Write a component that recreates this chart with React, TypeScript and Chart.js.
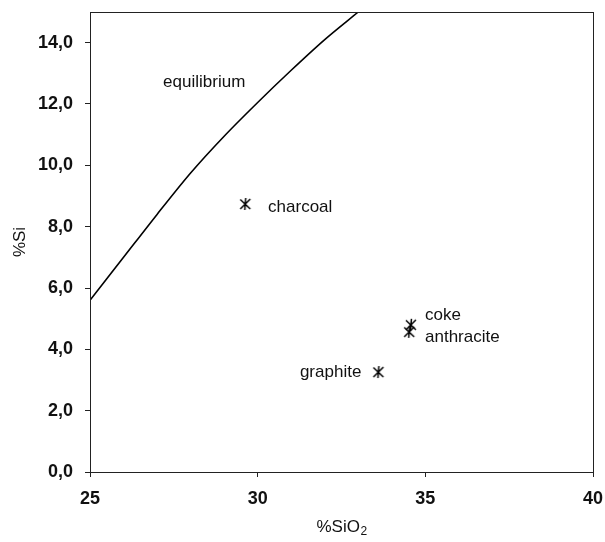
import React, { useEffect, useRef } from "react";
import { Chart, registerables } from "chart.js";

Chart.register(...registerables);

// Equilibrium curve (%SiO2 -> %Si)
const eqSiO2 = [25, 26, 27, 28, 29, 30, 31, 32, 33];
const eqSi = [5.6, 7.0, 8.4, 9.75, 10.95, 12.05, 13.1, 14.1, 15.0];

// Measured samples
const sampleNames = ["charcoal", "coke", "anthracite", "graphite"];
const sampleSiO2 = [29.63, 34.57, 34.52, 33.6];
const sampleSi = [8.74, 4.8, 4.57, 3.26];

// Text annotations (anchored in data coordinates)
const labelTexts = ["equilibrium", "charcoal", "coke", "anthracite", "graphite"];
const labelSiO2 = [27.18, 30.31, 34.99, 34.99, 31.26];
const labelSi = [12.72, 8.64, 5.12, 4.4, 3.26];

// Ticks
const xTicks = [25, 30, 35, 40];
const yTicks = [0, 2, 4, 6, 8, 10, 12, 14];

const FONT = '"Liberation Sans", Arial, sans-serif';

function makeMarker(): HTMLCanvasElement {
  const c = document.createElement("canvas");
  c.width = 14;
  c.height = 14;
  const g = c.getContext("2d")!;
  g.strokeStyle = "#000";
  g.lineWidth = 1.5;
  g.beginPath();
  g.moveTo(7.5, 1);
  g.lineTo(6.5, 13);
  g.moveTo(2, 2.5);
  g.lineTo(12, 12);
  g.moveTo(12, 2);
  g.lineTo(2, 12);
  g.stroke();
  return c;
}

export default function App() {
  const ref = useRef<HTMLCanvasElement | null>(null);

  useEffect(() => {
    if (!ref.current) return;
    const marker = makeMarker();

    const annotations = {
      id: "annotations",
      afterDatasetsDraw(chart: any) {
        const { ctx, scales, chartArea } = chart;
        ctx.save();
        // frame
        ctx.strokeStyle = "#222";
        ctx.lineWidth = 1;
        ctx.strokeRect(chartArea.left + 0.5, chartArea.top + 0.5, chartArea.right - chartArea.left, chartArea.bottom - chartArea.top);
        // labels
        ctx.fillStyle = "#111";
        ctx.font = `17px ${FONT}`;
        ctx.textAlign = "left";
        ctx.textBaseline = "middle";
        labelTexts.forEach((t, i) => {
          ctx.fillText(t, scales.x.getPixelForValue(labelSiO2[i]), scales.y.getPixelForValue(labelSi[i]));
        });
        // x-axis title with subscript
        const main = "%SiO";
        const sub = "2";
        ctx.font = `17px ${FONT}`;
        const wMain = ctx.measureText(main).width;
        ctx.font = `12px ${FONT}`;
        const wSub = ctx.measureText(sub).width;
        const cx = (chartArea.left + chartArea.right) / 2;
        const cy = chart.height - 15;
        const x0 = cx - (wMain + wSub) / 2;
        ctx.textAlign = "left";
        ctx.textBaseline = "middle";
        ctx.font = `17px ${FONT}`;
        ctx.fillText(main, x0, cy);
        ctx.font = `12px ${FONT}`;
        ctx.fillText(sub, x0 + wMain + 0.5, cy + 5);
        ctx.restore();
      },
    };

    const chart = new Chart(ref.current, {
      type: "scatter",
      data: {
        datasets: [
          {
            label: "equilibrium",
            data: eqSiO2.map((x, i) => ({ x, y: eqSi[i] })),
            showLine: true,
            borderColor: "#000",
            borderWidth: 1.6,
            pointRadius: 0,
            tension: 0.3,
          } as any,
          {
            label: "samples",
            data: sampleSiO2.map((x, i) => ({ x, y: sampleSi[i], name: sampleNames[i] })),
            showLine: false,
            pointStyle: marker,
            pointRadius: 7,
          } as any,
        ],
      },
      options: {
        animation: false,
        responsive: false,
        maintainAspectRatio: false,
        layout: { padding: { top: 12, right: 12, left: 0, bottom: 0 } },
        plugins: { legend: { display: false }, tooltip: { enabled: false } },
        scales: {
          x: {
            type: "linear",
            min: 25,
            max: 40,
            afterBuildTicks: (s: any) => {
              s.ticks = xTicks.map((v) => ({ value: v }));
            },
            afterFit: (s: any) => {
              s.height = 70;
              s.paddingLeft = 0;
              s.paddingRight = 0;
            },
            ticks: {
              color: "#111",
              font: { family: FONT, size: 18, weight: "bold" },
              padding: 11,
              callback: (v: any) => String(v),
            },
            grid: { display: true, drawOnChartArea: false, drawTicks: true, tickLength: 5, color: "#222" },
            border: { display: true, color: "#222", width: 1 },
            title: { display: false },
          },
          y: {
            type: "linear",
            min: 0,
            max: 15,
            afterBuildTicks: (s: any) => {
              s.ticks = yTicks.map((v) => ({ value: v }));
            },
            afterFit: (s: any) => {
              s.width = 90;
              s.paddingTop = 0;
              s.paddingBottom = 0;
            },
            ticks: {
              color: "#111",
              font: { family: FONT, size: 18, weight: "bold" },
              padding: 12,
              callback: (v: any) => Number(v).toFixed(1).replace(".", ","),
            },
            grid: { display: true, drawOnChartArea: false, drawTicks: true, tickLength: 5, color: "#222" },
            border: { display: true, color: "#222", width: 1 },
            title: {
              display: true,
              text: "%Si",
              color: "#111",
              font: { family: FONT, size: 17 },
              padding: { top: 10, bottom: 0 },
            },
          },
        },
      },
      plugins: [annotations],
    });
    return () => chart.destroy();
  }, []);

  return (
    <div style={{ position: "absolute", left: 0, top: 0, width: 605, height: 542, background: "#fff" }}>
      <canvas ref={ref} width={605} height={542} style={{ display: "block" }} />
    </div>
  );
}
